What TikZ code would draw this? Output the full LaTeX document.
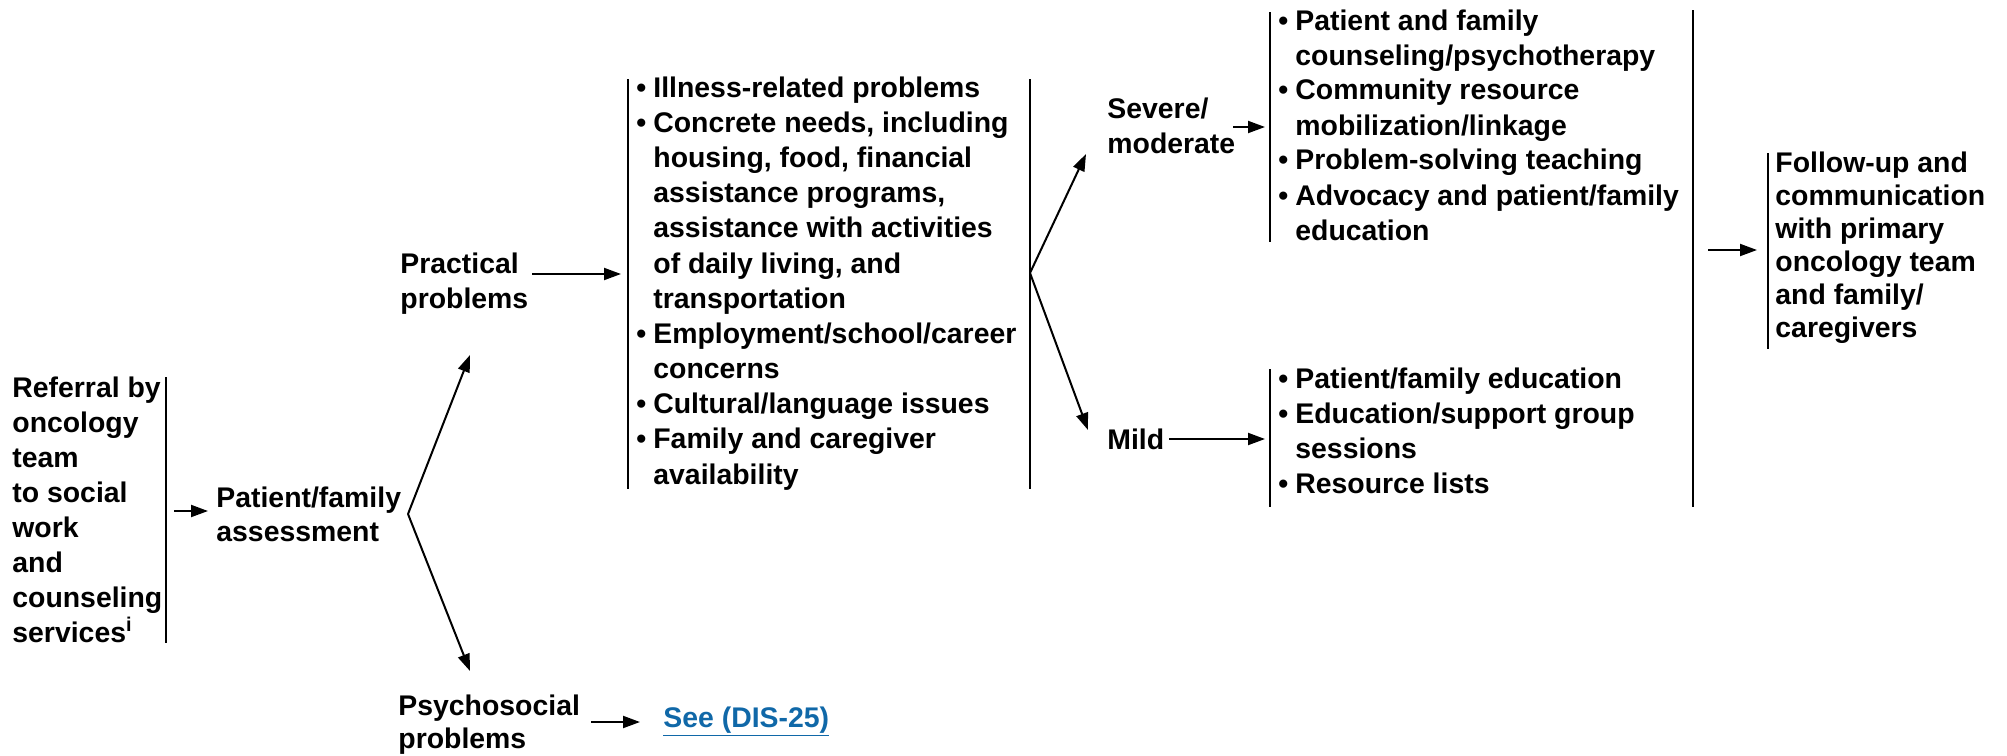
\documentclass[tikz,border=0pt]{standalone}
\usepackage{fontspec}
\setmainfont{Liberation Sans}
\usetikzlibrary{arrows.meta}
\definecolor{linkblue}{RGB}{16,104,168}
\newcommand{\blk}[2]{{\fontsize{14.2}{#1}\selectfont\begin{tabular}[t]{@{}l@{}}#2\end{tabular}}}
\newcommand{\blist}[2]{{\fontsize{14.2}{#1}\selectfont\begin{tabular}[t]{@{}l@{}l@{}}#2\end{tabular}}}
\newcommand{\bul}{\makebox[8.5pt][l]{•}}
\begin{document}
\begin{tikzpicture}[x=0.5pt,y=-0.5pt,
  txt/.style={inner sep=0pt, anchor=base west, font=\bfseries},
  bar/.style={line width=1.1pt},
  arr/.style={line width=1pt, -{Triangle[length=8.5pt,width=6pt]}}
]
\useasboundingbox (0,0) rectangle (2007,755);

% ---------- text nodes ----------
\node[txt] (ref) at (12,397) {\blk{17.5pt}{Referral by\\oncology\\team\\to social\\work\\and\\counseling\\services\textsuperscript{i}}};
\node[txt] (assess) at (216,507) {\blk{17pt}{Patient/family\\assessment}};
\node[txt] (prac) at (400,273) {\blk{17.5pt}{Practical\\problems}};
\node[txt] (psych) at (398,715) {\blk{16.5pt}{Psychosocial\\problems}};
\node[txt] (link) at (663,727) {\color{linkblue}\fontsize{14.2}{16}\selectfont\underline{See (DIS-25)}};
\node[txt] (plist) at (636,97) {\blist{17.6pt}{\bul&Illness-related problems\\
  \bul&Concrete needs, including\\
  &housing, food, financial\\
  &assistance programs,\\
  &assistance with activities\\
  &of daily living, and\\
  &transportation\\
  \bul&Employment/school/career\\
  &concerns\\
  \bul&Cultural/language issues\\
  \bul&Family and caregiver\\
  &availability}};
\node[txt] (severe) at (1107,118) {\blk{17.5pt}{Severe/\\moderate}};
\node[txt] (mild) at (1107,449) {\blk{17.5pt}{Mild}};
\node[txt] (slist) at (1278,30) {\blist{17.5pt}{\bul&Patient and family\\
  &counseling/psychotherapy\\
  \bul&Community resource\\
  &mobilization/linkage\\
  \bul&Problem-solving teaching\\
  \bul&Advocacy and patient/family\\
  &education}};
\node[txt] (mlist) at (1278,388) {\blist{17.5pt}{\bul&Patient/family education\\
  \bul&Education/support group\\
  &sessions\\
  \bul&Resource lists}};
\node[txt] (follow) at (1775,172) {\blk{16.5pt}{Follow-up and\\communication\\with primary\\oncology team\\and family/\\caregivers}};

% ---------- bars ----------
\coordinate (refT) at (166,377);   \coordinate (refB) at (166,643);
\coordinate (plT) at (628,79);     \coordinate (plB) at (628,489);
\coordinate (prT) at (1030,79);    \coordinate (prB) at (1030,489);
\coordinate (slT) at (1270,12);    \coordinate (slB) at (1270,242);
\coordinate (mlT) at (1270,369);   \coordinate (mlB) at (1270,507);
\coordinate (bigT) at (1693,10);   \coordinate (bigB) at (1693,507);
\coordinate (fuT) at (1768,153);   \coordinate (fuB) at (1768,349);
\draw[bar] (refT) -- (refB);
\draw[bar] (plT) -- (plB);
\draw[bar] (prT) -- (prB);
\draw[bar] (slT) -- (slB);
\draw[bar] (mlT) -- (mlB);
\draw[bar] (bigT) -- (bigB);
\draw[bar] (fuT) -- (fuB);

% ---------- connectors ----------
\coordinate (a1s) at (174,511);  \coordinate (a1e) at (208,511);
\draw[arr] (a1s) -- (a1e);
\coordinate (fork1) at (408,514);
\coordinate (pracTip) at (470,355);
\coordinate (psyTip) at (470,671);
\draw[arr] (fork1) -- (pracTip);
\draw[arr] (fork1) -- (psyTip);
\coordinate (a2s) at (532,274);  \coordinate (a2e) at (621,274);
\draw[arr] (a2s) -- (a2e);
\coordinate (fork2) at (1030,273);
\coordinate (sevTip) at (1086,154);
\coordinate (mildTip) at (1088,430);
\draw[arr] (fork2) -- (sevTip);
\draw[arr] (fork2) -- (mildTip);
\coordinate (a3s) at (1233,127); \coordinate (a3e) at (1265,127);
\draw[arr] (a3s) -- (a3e);
\coordinate (a4s) at (1169,439); \coordinate (a4e) at (1265,439);
\draw[arr] (a4s) -- (a4e);
\coordinate (a5s) at (1708,250); \coordinate (a5e) at (1757,250);
\draw[arr] (a5s) -- (a5e);
\coordinate (a6s) at (591,722);  \coordinate (a6e) at (640,722);
\draw[arr] (a6s) -- (a6e);
\end{tikzpicture}
\end{document}
